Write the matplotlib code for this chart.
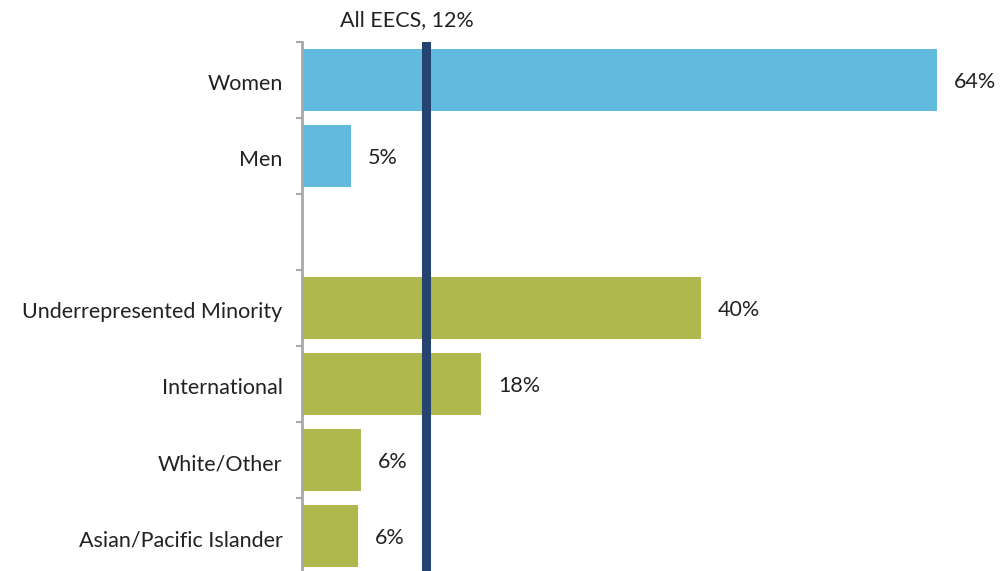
import matplotlib.pyplot as plt

# data
categories = ['Women', 'Men', '', 'Underrepresented Minority', 'International',
              'White/Other', 'Asian/Pacific Islander']
values = [64.0, 4.9, None, 40.2, 18.0, 5.9, 5.6]
labels = ['64%', '5%', '', '40%', '18%', '6%', '6%']
groups = ['gender', 'gender', None, 'race', 'race', 'race', 'race']
all_eecs = 12.5
all_eecs_label = 'All EECS, 12%'

colours = {'gender': '#63BADF', 'race': '#AEB84D'}
line_colour = '#24436F'
axis_grey = '#A8A8A8'

plt.rcParams['font.family'] = ['Lato', 'DejaVu Sans']
fs = 15.5

fig = plt.figure(figsize=(10, 5.71), dpi=100)
# axes placed in pixels: left at 302, top tick at 42, 76 px per category
ax = fig.add_axes([0.302, (571 - 574) / 571, 0.698, 532 / 571])

ypos = list(range(len(categories)))
for y, v, g, lab in zip(ypos, values, groups, labels):
    if v is None:
        continue
    ax.barh(y, v, height=0.82, color=colours[g], left=0)
    ax.text(v + 1.75, y + 0.03, lab, va='center', ha='left', fontsize=fs,
            color='#222222', clip_on=False)

ax.axvline(all_eecs, color=line_colour, linewidth=6.5, zorder=3)
ax.text(10.6, -0.5 - 0.29, all_eecs_label, ha='center', va='center',
        fontsize=fs, color='#222222', clip_on=False)

ax.set_xlim(0, 698 / 9.92)
ax.set_ylim(len(categories) - 0.5, -0.5)

# ticks sit between categories
ax.set_yticks([y - 0.5 for y in ypos] + [len(categories) - 0.5])
ax.set_yticklabels([])
ax.set_yticks([y + 0.03 for y in ypos], minor=True)
ax.set_yticklabels(categories, minor=True, fontsize=fs, color='#222222')
ax.tick_params(axis='y', which='major', length=4, width=1.5, color=axis_grey,
               direction='out')
ax.tick_params(axis='y', which='minor', length=0, pad=14)
ax.set_xticks([])

for side in ['top', 'right', 'bottom']:
    ax.spines[side].set_visible(False)
ax.spines['left'].set_color(axis_grey)
ax.spines['left'].set_linewidth(2)

fig.savefig('out.png', dpi=100)
